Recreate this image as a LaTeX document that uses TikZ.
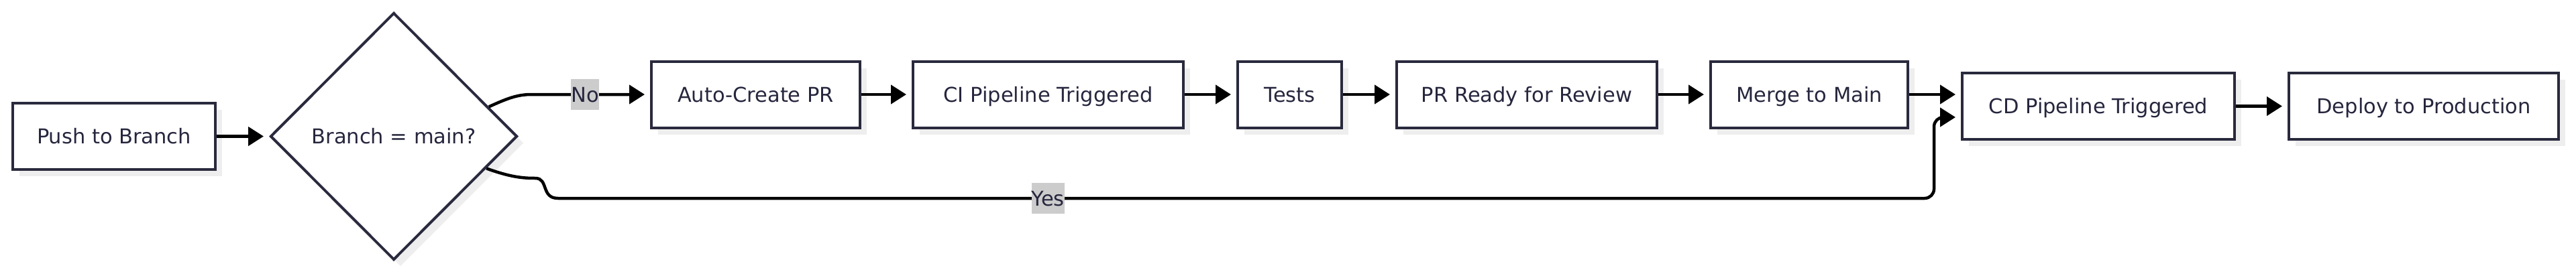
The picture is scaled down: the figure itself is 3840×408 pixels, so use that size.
\documentclass[tikz,border=0pt]{standalone}
\usepackage{fontspec}
\setmainfont{DejaVu Sans}
\usetikzlibrary{shapes.geometric,arrows.meta,shadows,calc}
\definecolor{txt}{RGB}{38,38,62}
\definecolor{bord}{RGB}{42,42,62}
\definecolor{shd}{RGB}{238,238,238}
\definecolor{lblbg}{RGB}{204,204,204}
\begin{document}
\begin{tikzpicture}[x=1pt,y=-1pt,
  font=\fontsize{30.5}{36}\selectfont,
  box/.style={draw=bord, line width=4pt, fill=white, text=txt,
    minimum height=99pt, text height=22pt, text depth=0pt, inner sep=0pt,
    general shadow={fill=shd, shadow xshift=10pt, shadow yshift=-10pt}},
  decision/.style={box, diamond, minimum width=368pt, minimum height=369pt},
  conn/.style={draw=black, line width=4.5pt, -{Triangle[length=23pt,width=28pt]}, shorten >=8pt},
  lbl/.style={fill=lblbg, text=txt, inner xsep=0pt, inner ysep=12pt,
    text height=22pt, text depth=0pt, sharp corners}
]
\useasboundingbox (0,0) rectangle (3840,408);

\node[box, minimum width=302pt] (push) at (170,203.5) {Push to Branch};
\node[decision] (dec) at (587,203.5) {Branch = main?};
\node[box, minimum width=311pt] (auto) at (1126.5,141) {Auto-Create PR};
\node[box, minimum width=403pt] (ci) at (1562.5,141) {CI Pipeline Triggered};
\node[box, minimum width=155pt] (tests) at (1922.5,141) {Tests};
\node[box, minimum width=388pt] (ready) at (2276,141) {PR Ready for Review};
\node[box, minimum width=294pt] (merge) at (2697,141) {Merge to Main};
\node[box, minimum width=406pt] (cd) at (3128,158.5) {CD Pipeline Triggered};
\node[box, minimum width=402pt] (deploy) at (3613,158.5) {Deploy to Production};

\coordinate (noout) at ($(dec.north)!0.763!(dec.east)$);
\coordinate (yesout) at ($(dec.east)!0.257!(dec.south)$);

\draw[conn] (push.east) -- (dec.west);
\draw[conn] (noout) .. controls (758,146) and (772,141) .. (793,141)
  -- node[lbl, pos=0.45] (lno) {No} (auto.west);
\draw[conn] (yesout) .. controls (760,264) and (778,266) .. (798,266)
  .. controls (818,266) and (806,296) .. (832,296)
  [rounded corners=14pt] -- node[lbl, pos=0.356] (lyes) {Yes} (2883,296)
  -- (2883,175) -- (cd.west |- 0,175);
\draw[conn] (auto.east) -- (ci.west);
\draw[conn] (ci.east) -- (tests.west);
\draw[conn] (tests.east) -- (ready.west);
\draw[conn] (ready.east) -- (merge.west);
\draw[conn] (merge.east) -- (merge.east -| cd.west);
\draw[conn] (cd.east) -- (deploy.west);
\end{tikzpicture}
\end{document}
